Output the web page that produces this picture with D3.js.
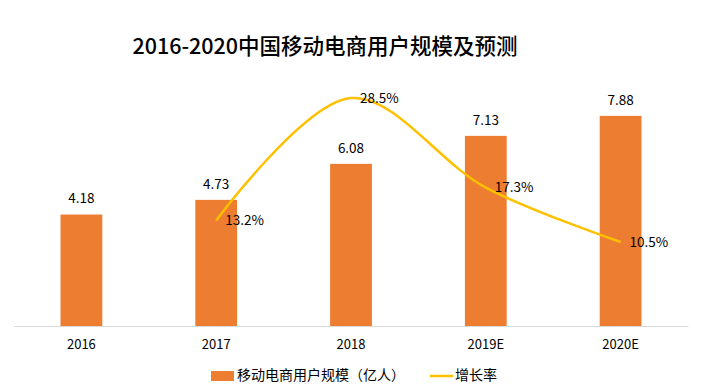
<!DOCTYPE html>
<html><head><meta charset="utf-8">
<script src="https://cdn.jsdelivr.net/npm/d3@7"></script>
<style>body{margin:0;background:#fff}svg{display:block}text{font-family:"Noto Sans CJK SC","Noto Sans",sans-serif}</style>
</head><body>
<svg id="c" width="706" height="388"></svg>
<script>
const categories = ["2016","2017","2018","2019E","2020E"];
const users = [4.18, 4.73, 6.08, 7.13, 7.88];
const growthCats = ["2017","2018","2019E","2020E"];
const growth = [13.2, 28.5, 17.3, 10.5];
const title = "2016-2020中国移动电商用户规模及预测";
const legendLabels = ["移动电商用户规模（亿人）","增长率"];

const svg = d3.select("#c");
const plotTop = 86, plotBottom = 326, plotLeft = 14, plotRight = 688;
const x = d3.scaleBand().domain(categories).range([plotLeft, plotRight]).paddingInner(0.69).paddingOuter(0.345);
const y = d3.scaleLinear().domain([0, 9]).range([plotBottom, plotTop]);
const y2 = d3.scaleLinear().domain([0, 30]).range([plotBottom, plotTop]);

svg.append("text").attr("x", 325).attr("y", 48).attr("text-anchor","middle")
  .attr("dominant-baseline","middle").attr("font-size", 21.5).attr("font-weight",500).attr("fill","#000").text(title);

// bars
svg.selectAll("rect.bar").data(users).join("rect").attr("class","bar")
  .attr("x",(d,i)=>x(categories[i])).attr("width",x.bandwidth())
  .attr("y",d=>y(d)).attr("height",d=>y(0)-y(d)).attr("fill","#ED7D31");

// axis
const ax = svg.append("g").attr("transform",`translate(0,${plotBottom})`)
  .call(d3.axisBottom(x).tickSize(0).tickPadding(14));
ax.select(".domain").attr("stroke","#D9D9D9").attr("stroke-width",1);
ax.selectAll("text").attr("font-size",13).attr("fill","#000").style("font-family","'Noto Sans CJK SC',sans-serif");

// bar labels
svg.selectAll("text.bl").data(users).join("text").attr("class","bl")
  .attr("x",(d,i)=>x(categories[i])+x.bandwidth()/2).attr("y",d=>y(d)-15)
  .attr("text-anchor","middle").attr("dominant-baseline","middle").attr("font-size",13.5).attr("fill","#000")
  .text(d=>d.toFixed(2));

// line
const cx = c => x(c)+x.bandwidth()/2;
const line = d3.line().x((d,i)=>cx(growthCats[i])).y(d=>y2(d)).curve(d3.curveCatmullRom.alpha(0.5));
svg.append("path").datum(growth).attr("d",line).attr("fill","none").attr("stroke","#FFC000").attr("stroke-width",2.5);

svg.selectAll("text.gl").data(growth).join("text").attr("class","gl")
  .attr("x",(d,i)=>cx(growthCats[i])+9).attr("y",d=>y2(d)+1)
  .attr("dominant-baseline","middle").attr("font-size",13.5).attr("fill","#000")
  .text(d=>d.toFixed(1)+"%");

// legend
const lg = svg.append("g");
lg.append("rect").attr("x",211).attr("y",371).attr("width",23).attr("height",10).attr("fill","#ED7D31");
lg.append("text").attr("x",237).attr("y",376).attr("dominant-baseline","middle").attr("font-size",14).attr("fill","#000").text(legendLabels[0]);
lg.append("line").attr("x1",430).attr("x2",453).attr("y1",376).attr("y2",376).attr("stroke","#FFC000").attr("stroke-width",2.5);
lg.append("text").attr("x",455).attr("y",376).attr("dominant-baseline","middle").attr("font-size",14).attr("fill","#000").text(legendLabels[1]);
</script>
</body></html>
